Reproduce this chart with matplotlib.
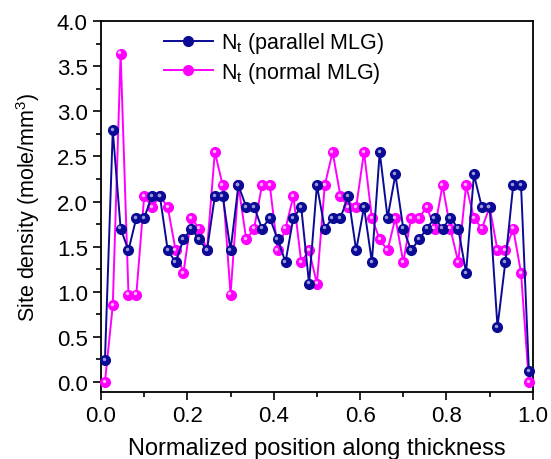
import numpy as np
import matplotlib
matplotlib.use('Agg')
import matplotlib.pyplot as plt
from matplotlib.ticker import MultipleLocator
from matplotlib.transforms import ScaledTranslation

plt.rcParams['font.family'] = ['Liberation Sans', 'DejaVu Sans']
plt.rcParams['mathtext.fontset'] = 'custom'
plt.rcParams['mathtext.rm'] = 'Liberation Sans'
plt.rcParams['mathtext.it'] = 'Liberation Sans'

# site density per slice, 55 slices across the thickness
parallel_mlg = [0.24, 2.79, 1.70, 1.46, 1.82, 1.82, 2.06, 2.06, 1.46, 1.33,
                1.58, 1.70, 1.58, 1.46, 2.06, 2.06, 1.46, 2.18, 1.94, 1.94,
                1.70, 1.82, 1.58, 1.33, 1.82, 1.94, 1.09, 2.18, 1.70, 1.82,
                1.82, 2.06, 1.46, 1.94, 1.33, 2.55, 1.82, 2.30, 1.70, 1.46,
                1.58, 1.70, 1.82, 1.70, 1.82, 1.70, 1.21, 2.30, 1.94, 1.94,
                0.61, 1.33, 2.18, 2.18, 0.12]
normal_mlg = [0.00, 0.85, 3.64, 0.97, 0.97, 2.06, 1.94, 2.06, 1.94, 1.46,
              1.21, 1.82, 1.70, 1.46, 2.55, 2.18, 0.97, 2.18, 1.58, 1.70,
              2.18, 2.18, 1.46, 1.70, 2.06, 1.33, 1.46, 1.09, 2.18, 2.55,
              2.06, 1.94, 1.94, 2.55, 1.82, 1.58, 1.46, 1.82, 1.33, 1.82,
              1.82, 1.94, 1.70, 2.18, 1.70, 1.33, 2.18, 1.82, 1.70, 1.94,
              1.46, 1.46, 1.70, 1.21, 0.00]
n_slices = len(parallel_mlg)
position = (np.arange(n_slices) + 0.5) / n_slices

fig = plt.figure(figsize=(5.51, 4.6), dpi=100)
ax = fig.add_axes([0.1833, 0.1457, 0.7837, 0.8063])

series = [
    (normal_mlg, '#ff00ff', '#ffb4ff', r'N$_\mathregular{t}$ (normal MLG)'),
    (parallel_mlg, '#0a0a96', '#9a9ad8', r'N$_\mathregular{t}$ (parallel MLG)'),
]
shine = ax.transData + ScaledTranslation(-0.012, 0.012, fig.dpi_scale_trans)
handles = []
for vals, col, light, lab in series:
    h, = ax.plot(position, vals, '-o', color=col, lw=1.4, ms=7,
                 mec=col, mfc=col, label=lab, clip_on=False, zorder=3)
    ax.plot(position, vals, 'o', color=light, ms=2.5, mec='none',
            transform=shine, clip_on=False, zorder=4)
    handles.append(h)

ax.set_xlim(0, 1.0)
ax.set_ylim(-0.11, 4.0)
ax.xaxis.set_major_locator(MultipleLocator(0.2))
ax.xaxis.set_minor_locator(MultipleLocator(0.1))
ax.yaxis.set_major_locator(MultipleLocator(0.5))
ax.yaxis.set_minor_locator(MultipleLocator(0.25))
ax.xaxis.set_major_formatter(plt.FormatStrFormatter('%.1f'))
ax.yaxis.set_major_formatter(plt.FormatStrFormatter('%.1f'))
ax.tick_params(which='both', direction='out', top=False, right=False,
               labelsize=16, width=1.2)
ax.tick_params(which='major', length=6)
ax.tick_params(which='minor', length=3.5)
for sp in ax.spines.values():
    sp.set_linewidth(1.3)

ax.set_xlabel('Normalized position along thickness', fontsize=17, labelpad=8)
ax.set_ylabel(r'Site density (mole/mm$^\mathregular{3}$)', fontsize=15.5, labelpad=11)

ax.legend(handles[::-1], [h.get_label() for h in handles[::-1]],
          loc='upper left', bbox_to_anchor=(0.115, 1.01), frameon=False,
          fontsize=15.5, handlelength=2.3, handletextpad=0.35,
          borderaxespad=0.2, labelspacing=0.2)

fig.savefig('out.png', dpi=100)
